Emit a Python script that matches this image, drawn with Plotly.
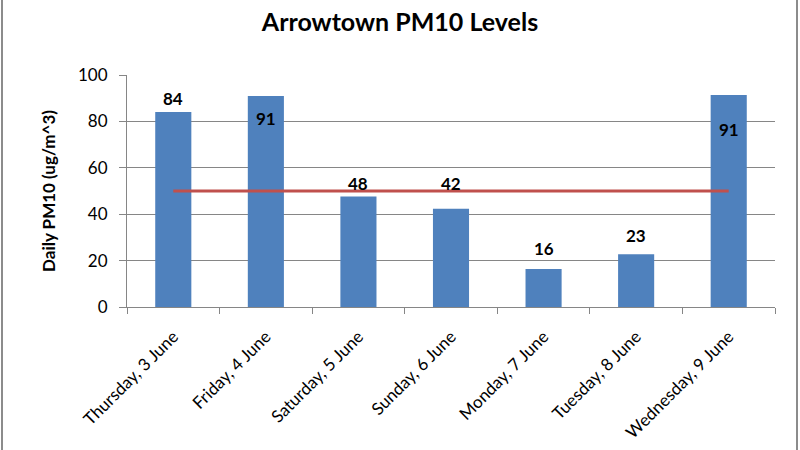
import plotly.graph_objects as go

# ---- data ----
days = ["Thursday, 3 June", "Friday, 4 June", "Saturday, 5 June", "Sunday, 6 June",
        "Monday, 7 June", "Tuesday, 8 June", "Wednesday, 9 June"]
pm10 = [84, 91, 47.6, 42.4, 16.4, 22.7, 91.4]
limit = [50, 50]
limit_days = [days[0], days[-1]]
y_ticks = [0, 20, 40, 60, 80, 100]

# ---- styling ----
label_shift = [14, -23, 13, 25, 20, 19, -35]  # px, label centre relative to bar top
FONT = "Lato"
BAR = "#4F81BD"
RED = "#C0504D"
GRID = "#868686"

fig = go.Figure()
fig.add_trace(go.Bar(x=days, y=pm10, marker=dict(color=BAR, line=dict(width=0)),
                     width=0.39, hoverinfo="x+y"))
fig.add_trace(go.Scatter(x=limit_days, y=limit, mode="lines",
                         line=dict(color=RED, width=3), hoverinfo="skip"))

for d, v, s in zip(days, pm10, label_shift):
    fig.add_annotation(x=d, y=v, text=f"<b>{v:.0f}</b>", showarrow=False,
                       yanchor="middle", yshift=s,
                       font=dict(family=FONT, size=17, color="#000000"))

fig.update_layout(
    width=800, height=450,
    margin=dict(l=127, r=25, t=75, b=143),
    paper_bgcolor="white", plot_bgcolor="white",
    showlegend=False,
    title=dict(text="<b>Arrowtown PM10 Levels</b>", x=0.5, xanchor="center",
               y=1 - 22 / 450, yanchor="middle",
               font=dict(family=FONT, size=25, color="#000000")),
    font=dict(family=FONT, color="#000000"),
    xaxis=dict(type="category", tickangle=-45, tickson="boundaries",
               ticks="outside", ticklen=6, tickcolor=GRID,
               showline=True, linecolor=GRID, linewidth=1, automargin=False,
               showgrid=False, tickfont=dict(family=FONT, size=17, color="#000000"),
               ticklabelstandoff=12,
               range=[-0.5, 6.5]),
    yaxis=dict(range=[0, 100], tickvals=y_ticks, ticks="outside", ticklen=7,
               tickcolor=GRID, showline=True, linecolor=GRID, linewidth=1,
               showgrid=True, gridcolor=GRID, gridwidth=1, zeroline=False,
               automargin=False,
               tickfont=dict(family=FONT, size=17, color="#000000"),
               ticklabelstandoff=8,
               title=dict(text="<b>Daily PM10 (ug/m^3)</b>", standoff=18,
                          font=dict(family=FONT, size=17, color="#000000"))),
)

# chart frame borders (left and right)
fig.add_shape(type="line", xref="paper", yref="paper",
              x0=(2 - 127) / 648, x1=(2 - 127) / 648, y0=-143 / 232, y1=1 + 75 / 232,
              line=dict(color="#8C8C8C", width=2))
fig.add_shape(type="line", xref="paper", yref="paper",
              x0=(797 - 127) / 648, x1=(797 - 127) / 648, y0=-143 / 232, y1=1 + 75 / 232,
              line=dict(color="#8C8C8C", width=2))

fig.write_html("out.html")
